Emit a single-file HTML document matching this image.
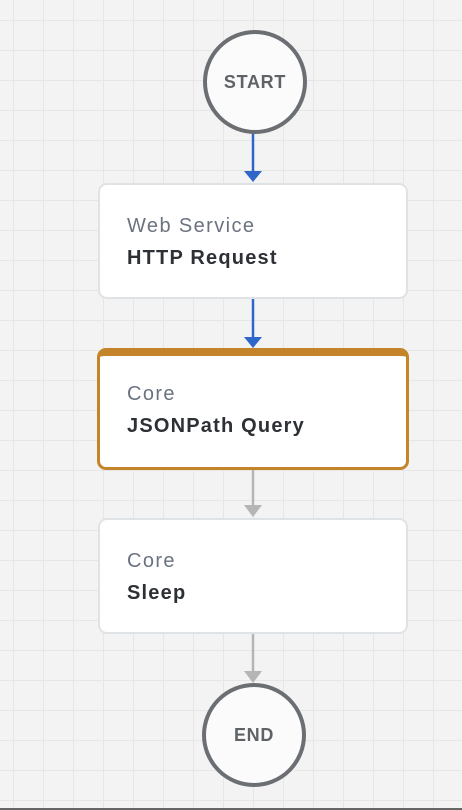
<!DOCTYPE html>
<html><head><style>
html,body{margin:0;padding:0}
body{width:462px;height:810px;position:relative;overflow:hidden;font-family:"Liberation Sans",sans-serif;
background-color:#f3f3f3;
background-image:linear-gradient(#e6e6e6 1px,transparent 1px),linear-gradient(90deg,#e6e6e6 1px,transparent 1px);
background-size:30px 30px;background-position:13px 20px;}
.circ{position:absolute;width:96px;height:96px;border:4px solid #6b6e72;border-radius:50%;background:#fbfbfb;
display:flex;align-items:center;justify-content:center;font-weight:bold;font-size:18px;letter-spacing:0.7px;color:#5f6266;}
.box{position:absolute;left:98px;width:306px;background:#fff;border:2px solid #e0e3e6;border-radius:9px;}
.box .a{position:absolute;left:27px;font-size:20px;letter-spacing:1.4px;color:#6b7280}
.box .b{position:absolute;left:27px;font-size:20px;letter-spacing:1.2px;font-weight:bold;color:#2d3136}
svg{position:absolute;left:0;top:0}
</style></head><body>
<svg width="462" height="810">
<line x1="253" y1="130" x2="253" y2="172" stroke="#2f66c9" stroke-width="2.5"/>
<polygon points="244,171 262,171 253,182" fill="#2f66c9"/>
<line x1="253" y1="298" x2="253" y2="338" stroke="#2f66c9" stroke-width="2.5"/>
<polygon points="244,337 262,337 253,348" fill="#2f66c9"/>
<line x1="253" y1="468" x2="253" y2="506" stroke="#b5b5b5" stroke-width="2.5"/>
<polygon points="244,505 262,505 253,517" fill="#b5b5b5"/>
<line x1="253" y1="633" x2="253" y2="672" stroke="#b5b5b5" stroke-width="2.5"/>
<polygon points="244,671 262,671 253,683" fill="#b5b5b5"/>
<line x1="0" y1="809" x2="462" y2="809" stroke="#666" stroke-width="2"/>
</svg>
<div class="circ" style="left:203px;top:30px">START</div>
<div class="box" style="top:183px;height:112px"><div class="a" style="top:30px">Web Service</div><div class="b" style="top:62px">HTTP Request</div></div>
<div class="box" style="top:348px;height:111px;border:3px solid #c4852a;border-top:8px solid #c4852a;left:97px"><div class="a" style="top:27px">Core</div><div class="b" style="top:59px">JSONPath Query</div></div>
<div class="box" style="top:518px;height:112px"><div class="a" style="top:30px">Core</div><div class="b" style="top:62px">Sleep</div></div>
<div class="circ" style="left:202px;top:683px">END</div>
</body></html>
